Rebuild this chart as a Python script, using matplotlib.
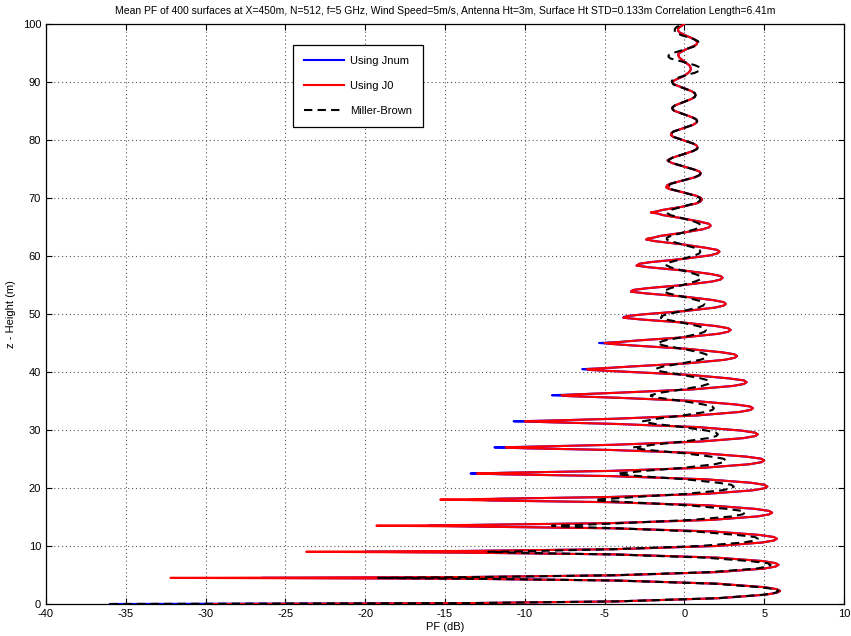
import numpy as np
import matplotlib
matplotlib.use("Agg")
import matplotlib.pyplot as plt

plt.rcParams['font.family'] = ['Liberation Sans', 'DejaVu Sans']
plt.rcParams['axes.unicode_minus'] = False

title = ("Mean PF of 400 surfaces at X=450m, N=512, f=5 GHz, Wind Speed=5m/s, "
         "Antenna Ht=3m, Surface Ht STD=0.133m Correlation Length=6.41m")

# heights (m) of the interference nulls and reading offsets within each lobe
null_heights = [0, 4.5, 9, 13.5, 18, 22.5, 27, 31.5, 36, 40.5, 45, 49.5, 54,
                58.5, 63, 67.5, 72, 76.5, 81, 85.5, 90, 94.5, 99]
lobe_offsets = [0, 0.15, 0.45, 1.0, 1.6, 1.95, 2.25, 2.55, 2.9, 3.5, 4.05, 4.35]

# PF (dB) readings, one row per lobe
pf_j0 = [
    [-29.5, -13.6, -4.2, 2.16, 5.07, 5.81, 6.0, 5.8, 5.02, 2.1, -4.25, -13.6],
    [-32.2, -13.6, -4.29, 2.06, 4.97, 5.71, 5.9, 5.7, 4.92, 2.0, -4.33, -13.6],
    [-23.7, -13.57, -4.37, 1.97, 4.87, 5.61, 5.8, 5.6, 4.73, 1.83, -4.46, -13.2],
    [-19.3, -12.83, -4.55, 1.69, 4.58, 5.31, 5.5, 5.3, 4.43, 1.55, -4.58, -12.2],
    [-15.3, -11.66, -4.61, 1.42, 4.28, 5.02, 5.2, 5.01, 4.19, 1.34, -4.61, -11.2],
    [-13.0, -10.79, -4.60, 1.26, 4.09, 4.83, 5.0, 4.82, 3.90, 1.1, -4.53, -10.0],
    [-11.2, -9.15, -4.46, 0.95, 3.70, 4.43, 4.6, 4.42, 3.56, 0.85, -4.37, -8.6],
    [-10.0, -8.04, -4.27, 0.75, 3.42, 4.13, 4.3, 4.12, 3.22, 0.62, -4.1, -7.3],
    [-7.7, -6.73, -3.94, 0.51, 3.05, 3.74, 3.9, 3.73, 2.78, 0.36, -3.65, -5.9],
    [-6.1, -5.09, -3.32, 0.22, 2.51, 3.15, 3.3, 3.14, 2.34, 0.15, -3.1, -4.63],
    [-5.0, -4.18, -2.87, 0.08, 2.16, 2.75, 2.9, 2.74, 2.02, 0.03, -2.68, -3.83],
    [-3.7, -3.57, -2.54, 0.0, 1.91, 2.46, 2.6, 2.45, 1.80, -0.02, -2.4, -3.35],
    [-3.3, -3.2, -2.32, -0.04, 1.74, 2.27, 2.4, 2.26, 1.64, -0.06, -2.2, -3.0],
    [-2.9, -2.84, -2.10, -0.07, 1.58, 2.07, 2.2, 2.06, 1.37, -0.1, -1.82, -2.4],
    [-2.3, -1.97, -1.52, -0.13, 1.14, 1.55, 1.65, 1.54, 1.0, -0.13, -1.34, -1.72],
    [-2.1, -1.8, -1.35, -0.13, 0.8, 1.03, 1.1, 1.02, 0.72, -0.12, -0.95, -1.15],
    [-0.96, -1.1, -0.9, -0.12, 0.69, 0.96, 1.03, 0.96, 0.62, -0.11, -0.8, -0.98],
    [-1.06, -0.95, -0.75, -0.11, 0.54, 0.76, 0.82, 0.76, 0.54, -0.11, -0.7, -0.85],
    [-0.8, -0.82, -0.69, -0.11, 0.53, 0.74, 0.8, 0.74, 0.50, -0.10, -0.65, -0.75],
    [-0.78, -0.74, -0.60, -0.10, 0.46, 0.65, 0.7, 0.65, 0.46, -0.10, -0.60, -0.74],
    [-0.75, -0.7, -0.5, -0.05, 0.25, 0.37, 0.4, 0.38, 0.3, 0.0, -0.25, -0.35],
    [-0.35, -0.4, -0.35, 0.0, 0.5, 0.75, 0.8, 0.76, 0.6, 0.1, -0.3, -0.4],
    [-0.4, -0.4, -0.3, 0.0],
]

pf_jnum = [
    [-36.0, -13.6, -4.2, 2.16, 5.07, 5.81, 6.0, 5.8, 5.02, 2.1, -4.25, -13.6],
    [-26.5, -13.6, -4.29, 2.06, 4.97, 5.71, 5.9, 5.7, 4.92, 2.0, -4.33, -13.6],
    [-20.0, -13.57, -4.37, 1.97, 4.87, 5.61, 5.8, 5.6, 4.73, 1.83, -4.46, -13.2],
    [-16.0, -12.83, -4.55, 1.69, 4.58, 5.31, 5.5, 5.3, 4.43, 1.55, -4.58, -12.2],
    [-13.0, -11.66, -4.61, 1.42, 4.28, 5.02, 5.2, 5.01, 4.19, 1.34, -4.61, -11.2],
    [-13.4, -10.79, -4.60, 1.26, 4.09, 4.83, 5.0, 4.82, 3.90, 1.1, -4.53, -10.0],
    [-11.9, -9.15, -4.46, 0.95, 3.70, 4.43, 4.6, 4.42, 3.56, 0.85, -4.37, -8.6],
    [-10.7, -8.04, -4.27, 0.75, 3.42, 4.13, 4.3, 4.12, 3.22, 0.62, -4.1, -7.3],
    [-8.3, -6.73, -3.94, 0.51, 3.05, 3.74, 3.9, 3.73, 2.78, 0.36, -3.65, -5.9],
    [-6.4, -5.09, -3.32, 0.22, 2.51, 3.15, 3.3, 3.14, 2.34, 0.15, -3.1, -4.63],
    [-5.35, -4.18, -2.87, 0.08, 2.16, 2.75, 2.9, 2.74, 2.02, 0.03, -2.68, -3.83],
    [-3.8, -3.57, -2.54, 0.0, 1.91, 2.46, 2.6, 2.45, 1.80, -0.02, -2.4, -3.35],
    [-3.3, -3.2, -2.32, -0.04, 1.74, 2.27, 2.4, 2.26, 1.64, -0.06, -2.2, -3.0],
    [-2.9, -2.84, -2.10, -0.07, 1.58, 2.07, 2.2, 2.06, 1.37, -0.1, -1.82, -2.4],
    [-2.3, -1.97, -1.52, -0.13, 1.14, 1.55, 1.65, 1.54, 1.0, -0.13, -1.34, -1.72],
    [-2.1, -1.8, -1.35, -0.13, 0.8, 1.03, 1.1, 1.02, 0.72, -0.12, -0.95, -1.15],
    [-0.96, -1.1, -0.9, -0.12, 0.69, 0.96, 1.03, 0.96, 0.62, -0.11, -0.8, -0.98],
    [-1.06, -0.95, -0.75, -0.11, 0.54, 0.76, 0.82, 0.76, 0.54, -0.11, -0.7, -0.85],
    [-0.8, -0.82, -0.69, -0.11, 0.53, 0.74, 0.8, 0.74, 0.50, -0.10, -0.65, -0.75],
    [-0.78, -0.74, -0.60, -0.10, 0.46, 0.65, 0.7, 0.65, 0.46, -0.10, -0.60, -0.74],
    [-0.75, -0.7, -0.5, -0.05, 0.25, 0.37, 0.4, 0.38, 0.3, 0.0, -0.25, -0.35],
    [-0.35, -0.4, -0.35, 0.0, 0.5, 0.75, 0.8, 0.76, 0.6, 0.1, -0.3, -0.4],
    [-0.4, -0.4, -0.3, 0.0],
]

pf_miller_brown = [
    [-36.0, -13.6, -4.29, 2.06, 4.97, 5.71, 5.9, 5.7, 4.75, 1.85, -4.4, -13.0],
    [-19.2, -12.46, -4.58, 1.59, 4.48, 5.22, 5.4, 5.2, 4.09, 1.26, -4.6, -10.8],
    [-12.3, -9.15, -4.46, 0.95, 3.70, 4.43, 4.6, 4.42, 3.3, 0.68, -4.15, -7.7],
    [-8.3, -6.43, -3.84, 0.46, 2.96, 3.64, 3.8, 3.63, 2.65, 0.3, -3.5, -5.5],
    [-5.6, -4.63, -3.10, 0.15, 2.34, 2.95, 3.1, 2.94, 2.13, 0.07, -2.83, -4.1],
    [-4.2, -3.57, -2.54, 0.0, 1.91, 2.46, 2.6, 2.45, 1.70, -0.05, -2.26, -3.1],
    [-3.25, -2.68, -1.99, -0.09, 1.50, 1.99, 2.1, 1.98, 1.40, -0.1, -1.85, -2.45],
    [-2.6, -2.27, -1.72, -0.11, 1.30, 1.75, 1.85, 1.74, 1.2, -0.12, -1.6, -2.1],
    [-2.1, -1.90, -1.46, -0.13, 1.10, 1.51, 1.6, 1.5, 1.04, -0.13, -1.37, -1.78],
    [-1.8, -1.69, -1.32, -0.13, 0.99, 1.37, 1.45, 1.36, 0.95, -0.13, -1.27, -1.62],
    [-1.7, -1.55, -1.21, -0.13, 0.92, 1.28, 1.35, 1.27, 0.88, -0.13, -1.16, -1.48],
    [-1.4, -1.42, -1.12, -0.13, 0.85, 1.18, 1.25, 1.17, 0.77, -0.12, -1.0, -1.28],
    [-1.3, -1.12, -0.88, -0.12, 0.67, 0.99, 1.05, 0.98, 0.66, -0.12, -0.87, -1.10],
    [-1.2, -1.10, -0.87, -0.12, 0.66, 0.94, 1.0, 0.94, 0.66, -0.12, -0.87, -1.10],
    [-1.1, -1.10, -0.87, -0.12, 0.66, 0.94, 1.0, 0.94, 0.66, -0.12, -0.87, -1.05],
    [-1.0, -1.0, -0.85, -0.12, 0.66, 0.94, 1.0, 0.94, 0.66, -0.12, -0.87, -0.98],
    [-0.96, -0.98, -0.85, -0.12, 0.66, 0.94, 1.0, 0.94, 0.62, -0.11, -0.8, -1.0],
    [-1.0, -0.95, -0.74, -0.11, 0.56, 0.8, 0.85, 0.8, 0.54, -0.11, -0.7, -0.8],
    [-0.75, -0.8, -0.69, -0.11, 0.52, 0.75, 0.8, 0.75, 0.50, -0.10, -0.65, -0.75],
    [-0.75, -0.74, -0.60, -0.10, 0.46, 0.66, 0.7, 0.66, 0.50, -0.11, -0.68, -0.75],
    [-0.75, -0.8, -0.7, -0.12, 0.66, 0.94, 1.0, 0.94, 0.66, -0.12, -0.87, -1.0],
    [-1.0, -0.97, -0.78, -0.11, 0.59, 0.85, 0.9, 0.85, 0.59, -0.11, -0.6, -0.6],
    [-0.6, -0.6, -0.5, -0.1],
]

series_labels = ["Using Jnum", "Using J0", "Miller-Brown"]
x_ticks = [-40, -35, -30, -25, -20, -15, -10, -5, 0, 5, 10]
y_ticks = [0, 10, 20, 30, 40, 50, 60, 70, 80, 90, 100]


def flatten(rows):
    zs, vs = [], []
    for z0, row in zip(null_heights, rows):
        for off, v in zip(lobe_offsets, row):
            zs.append(z0 + off)
            vs.append(v)
    return np.array(vs), np.array(zs)


fig = plt.figure(figsize=(8.51, 6.36), dpi=100)
ax = fig.add_axes([46 / 851, 1 - 604 / 636, 798 / 851, 580 / 636])

x, z = flatten(pf_jnum)
ax.plot(x, z, color='#0000ff', lw=1.5, label=series_labels[0], zorder=3)
x, z = flatten(pf_j0)
ax.plot(x, z, color='#ff0000', lw=1.5, label=series_labels[1], zorder=4)
x, z = flatten(pf_miller_brown)
ax.plot(x, z, color='black', lw=1.5, ls=(0, (4, 2.5)), label=series_labels[2], zorder=5)

ax.set_xlim(-40, 10)
ax.set_ylim(0, 100)
ax.set_xticks(x_ticks)
ax.set_yticks(y_ticks)
ax.grid(True, color='0.35', ls=(0, (1, 2.5)), lw=0.8)
ax.tick_params(direction='in', length=4, width=0.8, labelsize=8, top=True, right=True,
               colors='black')
for s in ax.spines.values():
    s.set_linewidth(0.9)

ax.set_title(title, fontsize=7.5, pad=7)
ax.set_xlabel("PF (dB)", fontsize=8, labelpad=2)
ax.set_ylabel("z - Height (m)", fontsize=8, labelpad=5)

leg = ax.legend(loc='upper left', bbox_to_anchor=(293 / 851, 1 - 45 / 636),
                bbox_transform=fig.transFigure, fontsize=8, frameon=True,
                fancybox=False, shadow=False, edgecolor='black', framealpha=1,
                handlelength=3.6, handletextpad=0.5, labelspacing=1.35,
                borderpad=1.0, borderaxespad=0)
leg.get_frame().set_linewidth(0.9)
leg.set_zorder(10)

fig.savefig("out.png", dpi=100)
